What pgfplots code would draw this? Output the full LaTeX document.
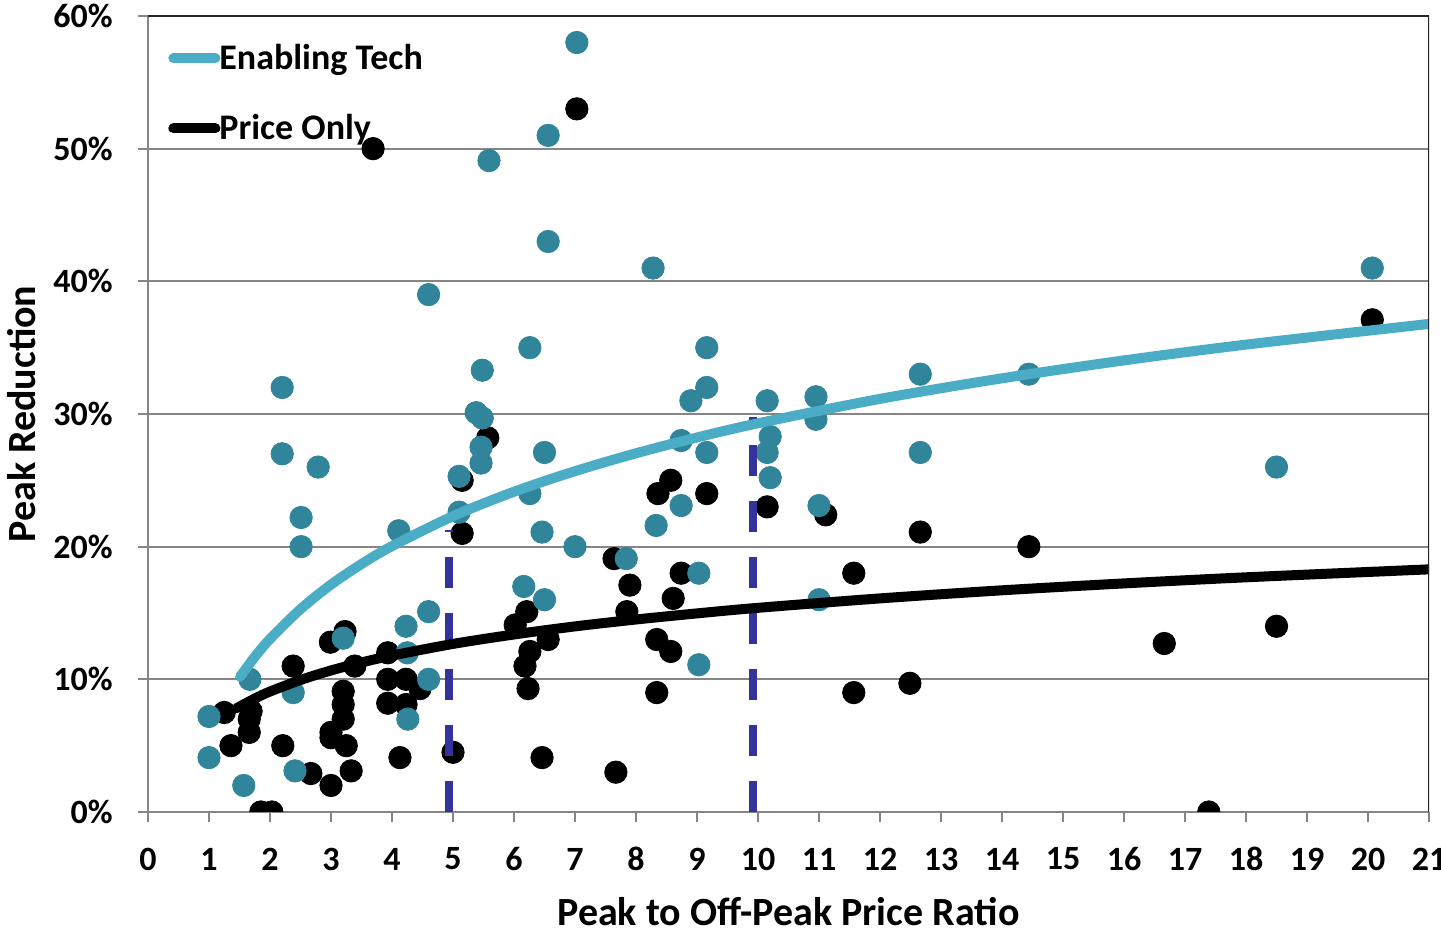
\documentclass[border=0pt]{standalone}
\usepackage{fontspec}
\setmainfont{Carlito}
\usepackage{pgfplots}
\pgfplotsset{compat=1.18}
\definecolor{tealpt}{RGB}{49,133,155}
\definecolor{tealln}{RGB}{75,172,198}
\definecolor{dashblue}{RGB}{51,51,153}
\definecolor{gridgray}{RGB}{134,134,134}
\definecolor{frameblk}{RGB}{38,38,38}
\begin{document}
\begin{tikzpicture}
\useasboundingbox (-74bp,-62bp) rectangle (646.5bp,406bp);
\begin{axis}[
  scale only axis, width=640.5bp, height=398bp,
  xmin=0, xmax=21, ymin=0, ymax=60,
  axis x line*=bottom, axis y line*=left,
  axis line style={-, gridgray, line width=1bp},
  xtick={0,1,...,21},
  xticklabels={0,1,2,3,4,5,6,7,8,9,10,11,12,13,14,15,16,17,18,19,20,21},
  ytick={0,10,20,30,40,50,60},
  yticklabels={0\%,10\%,20\%,30\%,40\%,50\%,60\%},
  tick align=outside, major tick length=5bp,
  tick style={gridgray, line width=1bp},
  ymajorgrids, grid style={gridgray, line width=1bp},
  xticklabel style={anchor=center, yshift=-18.5bp, font=\bfseries\fontsize{17bp}{20bp}\selectfont},
  yticklabel style={anchor=east, inner sep=0pt, xshift=-12.5bp, font=\bfseries\fontsize{17bp}{20bp}\selectfont},
  xlabel={Peak to Off-Peak Price Ratio},
  ylabel={Peak Reduction},
  xlabel style={at={(axis description cs:0.5,-0.1256)}, anchor=center, font=\bfseries\fontsize{20bp}{24bp}\selectfont},
  ylabel style={at={(axis description cs:-0.0984,0.5)}, anchor=center, font=\bfseries\fontsize{20bp}{24bp}\selectfont},
  clip marker paths=true,
  legend style={at={(axis description cs:0.0156,0.969)}, anchor=north west, draw=none, fill=none,
    inner sep=0pt, row sep=18bp, font=\bfseries\fontsize{18bp}{20bp}\selectfont,
    nodes={inner sep=1.5bp}, column sep=-2bp},
  legend cell align=left,
  legend image code/.code={\draw[#1, line cap=round] (0bp,0bp) -- (21bp,0bp);},
]
% Price Only points
\addplot[only marks, mark=*, mark size=5.6bp, mark options={fill=black, draw=black}, forget plot] coordinates {
(1.25,7.5) (1.69,7.6) (1.66,7.0) (1.66,6.0) (1.36,5.0) (1.85,0.0) (2.03,0.0)
(2.21,5.0) (2.38,11.0) (2.67,2.9) (2.99,12.8) (3.0,6.0) (3.0,5.6) (3.0,2.0)
(3.2,9.1) (3.2,8.1) (3.2,7.0) (3.23,13.6) (3.25,5.0) (3.33,3.1) (3.39,11.0)
(3.69,50.0) (3.93,12.0) (3.93,10.0) (3.93,8.2) (4.13,4.1) (4.23,10.0) (4.23,8.1)
(4.46,9.3) (5.0,4.5) (5.15,25.0) (5.15,21.0) (5.57,28.2)
(6.02,14.1) (6.21,15.1) (6.56,13.0) (6.26,12.1) (6.18,11.0) (6.23,9.3) (6.46,4.1)
(7.03,53.0) (7.64,19.1) (7.67,3.0) (7.9,17.1) (7.85,15.1)
(8.34,13.0) (8.57,12.1) (8.34,9.0) (8.74,18.0) (8.61,16.1) (8.57,25.0) (8.36,24.0)
(9.16,24.0) (10.15,23.0) (11.11,22.4) (11.57,18.0) (11.57,9.0)
(12.49,9.7) (12.66,21.1) (14.44,20.0) (16.66,12.7) (17.39,0.0) (18.5,14.0) (20.07,37.1)
};
% Enabling Tech points
\addplot[only marks, mark=*, mark size=5.6bp, mark options={fill=tealpt, draw=tealpt}, forget plot] coordinates {
(1.0,7.2) (1.0,4.1) (1.67,10.0) (1.57,2.0) (2.2,32.0) (2.2,27.0) (2.38,9.0) (2.41,3.1)
(2.51,22.2) (2.51,20.0) (2.79,26.0) (3.2,13.1) (4.11,21.2) (4.23,14.0) (4.25,12.0) (4.26,7.0)
(4.6,15.1) (4.6,10.0) (4.6,39.0) (5.1,25.3) (5.1,22.6) (5.38,30.1) (5.48,29.7) (5.48,33.3)
(5.46,27.5) (5.46,26.3) (5.59,49.1) (6.26,35.0) (6.26,24.0) (6.16,17.0) (6.5,16.0) (6.46,21.1)
(6.5,27.1) (6.56,43.0) (6.56,51.0) (7.03,58.0) (7.0,20.0) (7.84,19.1) (8.28,41.0) (8.33,21.6)
(8.74,23.1) (8.74,28.0) (8.9,31.0) (9.03,18.0) (9.03,11.1) (9.16,35.0) (9.16,32.0) (9.16,27.1)
(10.15,31.0) (10.15,27.1) (10.2,28.3) (10.2,25.2) (10.95,31.3) (10.95,29.6) (11.0,23.1) (11.0,16.0)
(12.66,33.0) (12.66,27.1) (14.44,33.0) (18.5,26.0) (20.07,41.0)
};
% dashed markers
\addplot[dashblue, line width=4bp, line cap=butt, dash pattern=on 15.5bp off 12.5bp, forget plot] coordinates {(4.93,0) (4.93,21.25)};
\addplot[dashblue, line width=4bp, line cap=butt, dash pattern=on 15.5bp off 12.5bp, forget plot] coordinates {(9.91,0) (9.91,29.8)};
% trend curves
\addplot[tealln, line width=5bp, line cap=round, line join=round, smooth, no markers] coordinates {
(1.51,10.2) (1.75,11.69) (2,13.04) (2.5,15.29) (3,17.14) (3.5,18.69) (4,20.04) (5,22.30)
(6,24.14) (7,25.69) (8,27.04) (9,28.23) (10,29.30) (12,31.14) (14,32.69) (16,34.04) (18,35.23) (21,36.79)
};
\addlegendentry{Enabling Tech}
\addplot[black, line width=5bp, line cap=round, line join=round, smooth, no markers] coordinates {
(1.45,7.82) (1.75,8.55) (2,9.08) (2.5,9.95) (3,10.67) (3.5,11.27) (4,11.79) (5,12.67)
(6,13.38) (7,13.99) (8,14.51) (9,14.97) (10,15.39) (12,16.10) (14,16.71) (16,17.23) (18,17.69) (21,18.29)
};
\addlegendentry{Price Only}
\draw[frameblk, line width=1.2bp] (rel axis cs:0,1) -- (rel axis cs:1,1) -- (rel axis cs:1,0);
\end{axis}
\end{tikzpicture}
\end{document}
